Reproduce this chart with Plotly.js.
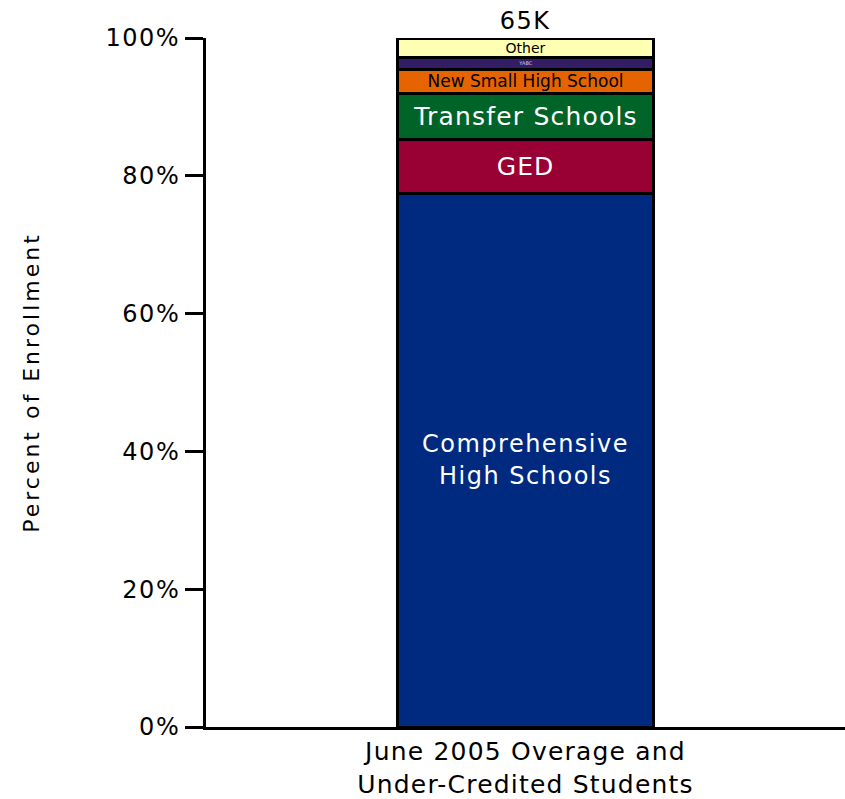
<!DOCTYPE html>
<html>
<head>
<meta charset="utf-8">
<script src="https://cdn.plot.ly/plotly-3.0.1.min.js"></script>
<style>
html, body { margin: 0; padding: 0; background: #fff; }
#chart { width: 845px; height: 799px; }
#chart .ytick text { letter-spacing: 1.5px; }
#chart .xtick text { letter-spacing: 1.2px; }
#chart .g-ytitle text { letter-spacing: 3px; }
#chart .annotation-text { letter-spacing: 1.5px; }
#chart .barlayer .trace:nth-child(1) .bartext { letter-spacing: 1.5px; }
#chart .barlayer .trace:nth-child(2) .bartext { letter-spacing: 1px; }
#chart .barlayer .trace:nth-child(3) .bartext { letter-spacing: 1.2px; }
</style>
</head>
<body>
<div id="chart"></div>
<script>
// Data
const category = ['June 2005 Overage and<br>Under-Credited Students'];
const segmentNames = ['Comprehensive<br>High Schools', 'GED', 'Transfer Schools', 'New Small High School', 'YABC', 'Other'];
const segmentValues = [77.5, 7.8, 6.7, 3.5, 1.7, 2.8];
const segmentColors = ['#002A7F', '#990033', '#006328', '#E66400', '#331E66', '#FFFFB3'];
const labelColors = ['#FFFFFF', '#FFFFFF', '#FFFFFF', '#000000', '#C8C8E6', '#000000'];
const labelSizes = [24, 25, 25, 17, 5, 14];
const totalLabel = '65K';
const yTicks = [0, 20, 40, 60, 80, 100];

const FONT = 'DejaVu Sans, Verdana, sans-serif';

const traces = segmentNames.map((name, i) => ({
  type: 'bar',
  name: name,
  x: category,
  y: [segmentValues[i]],
  text: [name],
  textposition: 'inside',
  insidetextanchor: 'middle',
  textangle: 0,
  constraintext: 'none',
  textfont: { family: FONT, size: labelSizes[i], color: labelColors[i] },
  marker: { color: segmentColors[i], line: { color: '#000000', width: 3 } },
  hoverinfo: 'skip',
  showlegend: false
}));

const total = segmentValues.reduce((a, b) => a + b, 0);

const layout = {
  width: 845,
  height: 799,
  margin: { l: 206, r: 0, t: 38, b: 72 },
  paper_bgcolor: '#ffffff',
  plot_bgcolor: '#ffffff',
  barmode: 'stack',
  bargap: 0.6,
  font: { family: FONT, color: '#000000', size: 22 },
  xaxis: {
    type: 'category',
    range: [-0.5, 0.5],
    showline: true,
    linewidth: 3,
    linecolor: '#000000',
    ticks: '',
    showgrid: false,
    zeroline: false,
    tickfont: { family: FONT, size: 25, color: '#000000' },
    fixedrange: true
  },
  yaxis: {
    range: [0, 100],
    tickvals: yTicks,
    ticktext: yTicks.map(v => v + '%'),
    showline: true,
    linewidth: 3,
    linecolor: '#000000',
    ticks: 'outside',
    ticklen: 18,
    tickwidth: 3,
    tickcolor: '#000000',
    showgrid: false,
    zeroline: false,
    tickfont: { family: FONT, size: 24, color: '#000000' },
    title: { text: 'Percent of Enrollment', font: { family: FONT, size: 22, color: '#000000' }, standoff: 66 },
    fixedrange: true
  },
  annotations: [{
    x: category[0],
    y: total,
    xref: 'x',
    yref: 'y',
    text: totalLabel,
    showarrow: false,
    yanchor: 'bottom',
    yshift: 1,
    font: { family: FONT, size: 24, color: '#000000' }
  }]
};

Plotly.newPlot('chart', traces, layout, { staticPlot: true, displayModeBar: false });
</script>
</body>
</html>
